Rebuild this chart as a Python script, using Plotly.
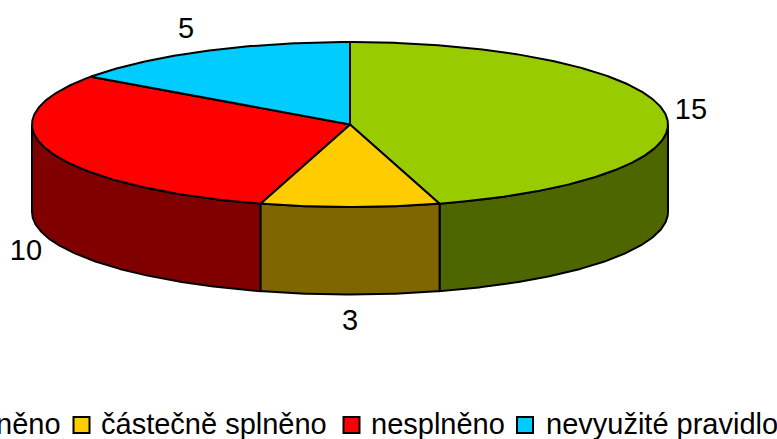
import numpy as np
import plotly.graph_objects as go

categories = ["splněno", "částečně splněno", "nesplněno", "nevyužité pravidlo"]
values = [15, 3, 10, 5]
top_colors = ["#99CC00", "#FFCC00", "#FF0000", "#00CCFF"]
side_colors = ["#4D6600", "#806600", "#800000", "#006680"]

CX, CY, RX, RY, DEPTH = 350, 124.5, 318, 82.5, 87.5
FONT = "Liberation Sans, Arial, sans-serif"
LABEL_POS = [(691, 112), (350, 323), (26, 253), (186, 31)]
LEGEND_TEXT_RIGHT = [61, None, None, None]
LEGEND_TEXT_LEFT = [None, 101, 371, 546]
LEGEND_SWATCH = [-40, 81.5, 351.5, 525]
LEGEND_Y = 424


def pts(a0, a1):
    t = np.radians(np.linspace(a0, a1, max(2, int(abs(a1 - a0) * 2))))
    return CX + RX * np.sin(t), CY - RY * np.cos(t)


fig = go.Figure()
edges = np.concatenate([[0], np.cumsum(values)]) / sum(values) * 360

# Front wall
for i in range(len(values)):
    a0, a1 = max(edges[i], 90), min(edges[i + 1], 270)
    if a1 <= a0:
        continue
    x, y = pts(a0, a1)
    fig.add_trace(go.Scatter(
        x=np.concatenate([x, x[::-1], x[:1]]),
        y=np.concatenate([y, y[::-1] + DEPTH, y[:1]]),
        mode="lines", fill="toself", fillcolor=side_colors[i],
        line=dict(color="black", width=2), hoverinfo="skip", showlegend=False))

# Top face
for i in range(len(values)):
    x, y = pts(edges[i], edges[i + 1])
    fig.add_trace(go.Scatter(
        x=np.concatenate([[CX], x, [CX]]),
        y=np.concatenate([[CY], y, [CY]]),
        mode="lines", fill="toself", fillcolor=top_colors[i],
        line=dict(color="black", width=2), name=categories[i], showlegend=False))

# Value labels
fig.add_trace(go.Scatter(
    x=[p[0] for p in LABEL_POS], y=[p[1] for p in LABEL_POS],
    text=[str(v) for v in values], mode="text", textposition="middle center",
    textfont=dict(family=FONT, size=29, color="black"),
    hoverinfo="skip", showlegend=False))

# Legend
for i in range(len(categories)):
    fig.add_trace(go.Scatter(
        x=[LEGEND_SWATCH[i]], y=[LEGEND_Y + 1], mode="markers",
        marker=dict(symbol="square", size=16, color=top_colors[i],
                    line=dict(color="black", width=2)),
        hoverinfo="skip", showlegend=False))
    right = LEGEND_TEXT_RIGHT[i]
    fig.add_annotation(
        x=right if right is not None else LEGEND_TEXT_LEFT[i], y=LEGEND_Y,
        text=categories[i], showarrow=False,
        xanchor="right" if right is not None else "left", yanchor="middle",
        font=dict(family=FONT, size=29, color="black"),
        borderpad=0, borderwidth=0)

fig.update_layout(
    width=777, height=439, autosize=False,
    margin=dict(l=0, r=0, t=0, b=0),
    paper_bgcolor="white", plot_bgcolor="white",
    xaxis=dict(range=[0, 777], visible=False, fixedrange=True),
    yaxis=dict(range=[439, 0], visible=False, fixedrange=True),
)
fig.write_html(
    "out.html", config={"displayModeBar": False},
    post_script="document.body.style.margin='0';document.body.style.overflow='hidden';",
)
